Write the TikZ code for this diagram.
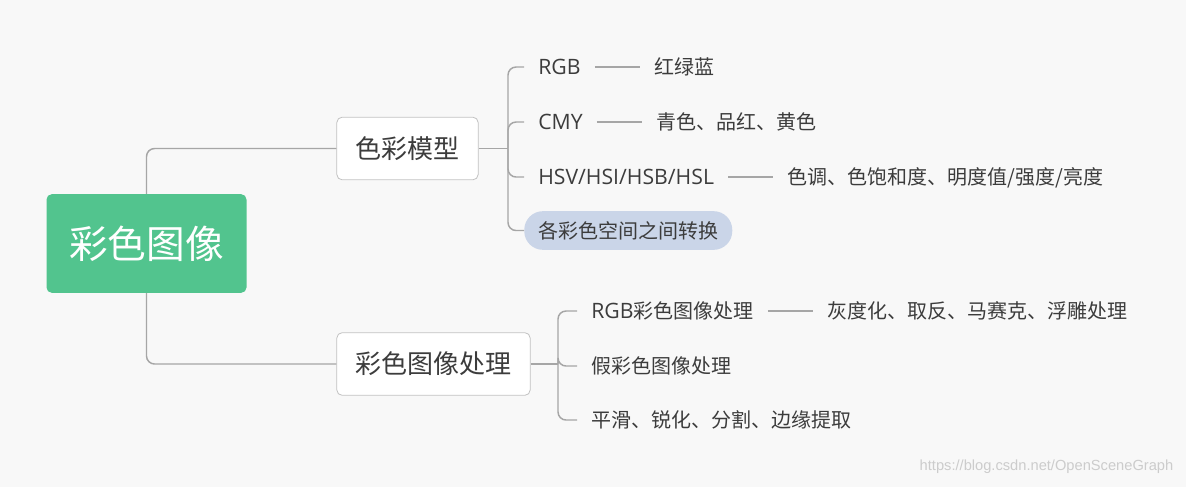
\documentclass[tikz,border=0pt]{standalone}
\usepackage{fontspec}
\setmainfont{Noto Sans CJK SC}
\newfontfamily\latfont[Scale=1.06]{Open Sans}
\newfontfamily\markfont{Liberation Sans}
\usetikzlibrary{positioning}

\definecolor{bgcol}{HTML}{F8F8F8}
\definecolor{rootgreen}{HTML}{52C48E}
\definecolor{linkgray}{HTML}{A6A6A6}
\definecolor{boxgray}{HTML}{C2C2C2}
\definecolor{textgray}{HTML}{3C3C3C}
\definecolor{pillblue}{HTML}{CAD5E8}

\tikzset{
  rootbox/.style={fill=rootgreen, text=white, rounded corners=4pt,
    font=\fontsize{29}{32}\selectfont, minimum height=74pt, inner xsep=17pt},
  topicbox/.style={draw=boxgray, fill=white, rounded corners=4pt, line width=0.6pt,
    text=textgray, font=\fontsize{19.5}{22}\selectfont, minimum height=47pt, inner xsep=14pt},
  leaf/.style={text=textgray, font=\fontsize{15}{18}\selectfont, anchor=west,
    inner xsep=10.5pt, inner ysep=0pt, text height=13pt, text depth=1.5pt},
  pill/.style={leaf, fill=pillblue, rounded corners=14pt, minimum height=29pt},
  link/.style={draw=linkgray, line width=1.1pt, rounded corners=6pt},
}

\begin{document}
\begin{tikzpicture}[x=0.75pt, y=-0.75pt]
  \fill[bgcol] (0,0) rectangle (1186,487);
  \useasboundingbox (0,0) rectangle (1186,487);

  % Root
  \node[rootbox] (root) at (146.5,243.5) {彩色图像};

  % Colour models
  \node[topicbox] (model) at (407.5,148.5) {色彩模型};
  \coordinate (modelbus) at (508,148.5);
  \node[leaf] (rgb) at (524,67) {\latfont RGB};
  \node[leaf, right=33.75pt of rgb] (rgbinfo) {红绿蓝};
  \node[leaf] (cmy) at (524,122) {\latfont CMY};
  \node[leaf, right=33.75pt of cmy] (cmyinfo) {青色、品红、黄色};
  \node[leaf] (hsv) at (524,177) {\latfont HSV/HSI/HSB/HSL};
  \node[leaf, right=33.75pt of hsv] (hsvinfo) {色调、色饱和度、明度值/强度/亮度};
  \node[pill] (convert) at (524,230.5) {各彩色空间之间转换};

  % Colour image processing
  \node[topicbox] (proc) at (433.5,364) {彩色图像处理};
  \coordinate (procbus) at (558,364);
  \node[leaf] (rgbproc) at (577,311) {{\latfont RGB}彩色图像处理};
  \node[leaf, right=33.75pt of rgbproc] (rgbprocinfo) {灰度化、取反、马赛克、浮雕处理};
  \node[leaf] (pseudo) at (577,366) {假彩色图像处理};
  \node[leaf] (filter) at (577,420) {平滑、锐化、分割、边缘提取};

  % Links
  \draw[link] (root.north) |- (model.west);
  \draw[link] (root.south) |- (proc.west);
  \draw[link] (model.east) -- (modelbus);
  \foreach \n in {rgb,cmy,hsv,convert}
    \draw[link] (modelbus) |- (\n.west);
  \draw[link] (proc.east) -- (procbus);
  \foreach \n in {rgbproc,pseudo,filter}
    \draw[link] (procbus) |- (\n.west);
  \draw[link] (rgb) -- (rgbinfo);
  \draw[link] (cmy) -- (cmyinfo);
  \draw[link] (hsv) -- (hsvinfo);
  \draw[link] (rgbproc) -- (rgbprocinfo);

  % Watermark
  \node[text=gray!40, font=\markfont\fontsize{11}{13}\selectfont, anchor=east]
    (mark) at (1178,467) {https://blog.csdn.net/OpenSceneGraph};
\end{tikzpicture}
\end{document}
